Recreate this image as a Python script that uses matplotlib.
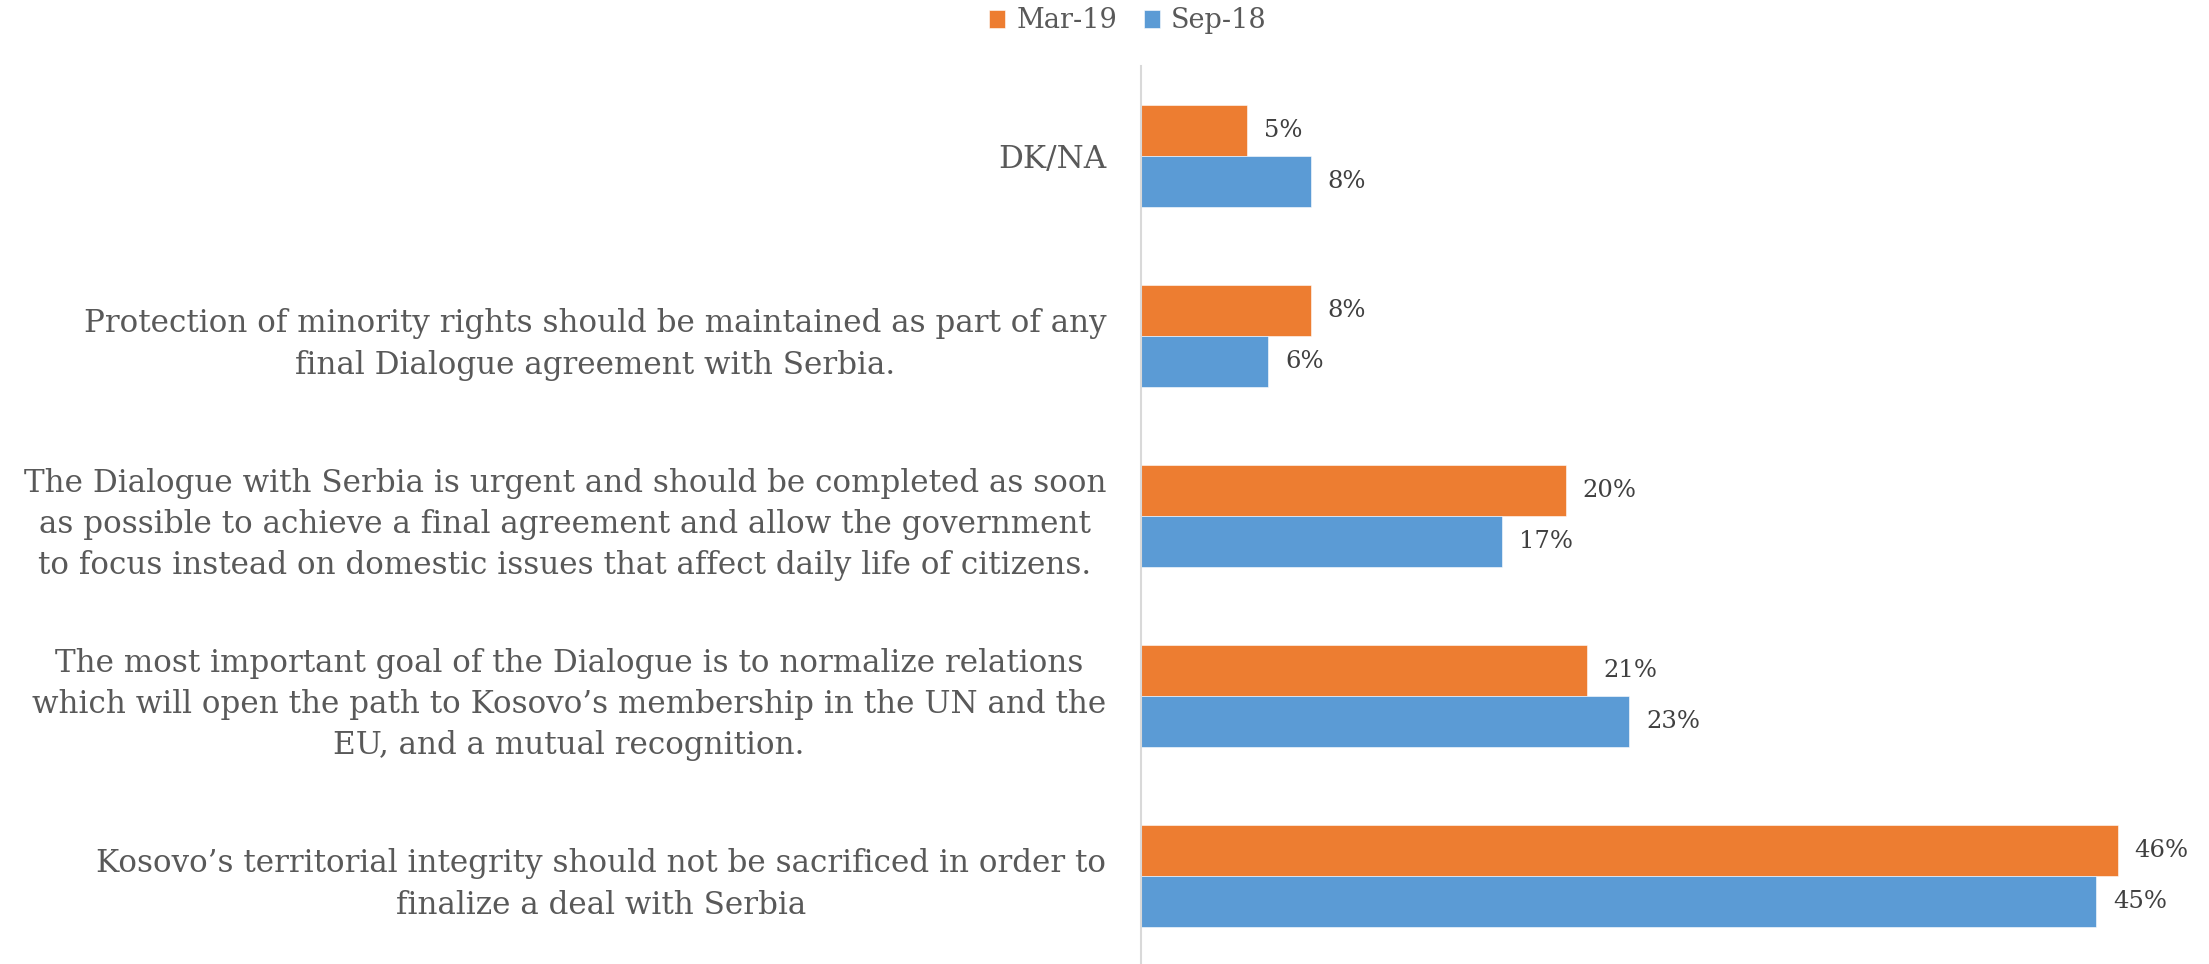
import matplotlib.pyplot as plt
import numpy as np

plt.rcParams['font.family'] = ['DejaVu Serif']

categories = [
    "Kosovo’s territorial integrity should not be sacrificed in order to\nfinalize a deal with Serbia",
    "The most important goal of the Dialogue is to normalize relations\nwhich will open the path to Kosovo’s membership in the UN and the\nEU, and a mutual recognition.",
    "The Dialogue with Serbia is urgent and should be completed as soon\nas possible to achieve a final agreement and allow the government\nto focus instead on domestic issues that affect daily life of citizens.",
    "Protection of minority rights should be maintained as part of any\nfinal Dialogue agreement with Serbia.",
    "DK/NA",
]
mar19 = [46, 21, 20, 8, 5]
sep18 = [45, 23, 17, 6, 8]

orange = '#ED7D31'
blue = '#5B9BD5'

fig = plt.figure(figsize=(22.09, 9.64), dpi=100)
ax = fig.add_axes([1141 / 2209, 0.0, 1 - 1141 / 2209, 1 - 66 / 964])

y = np.arange(len(categories))
h = 0.284
b1 = ax.barh(y + h / 2, mar19, height=h, color=orange, edgecolor='white', linewidth=0.4, label='Mar-19')
b2 = ax.barh(y - h / 2, sep18, height=h, color=blue, edgecolor='white', linewidth=0.4, label='Sep-18')

for bars, vals in ((b1, mar19), (b2, sep18)):
    for bar, v in zip(bars, vals):
        ax.text(v + 0.8, bar.get_y() + bar.get_height() / 2, f'{v}%',
                va='center', ha='left', fontsize=17.5, color='#404040')

ax.set_xlim(0, 50.3)
ax.set_ylim(-0.489, 4.5)
ax.set_xticks([])
ax.set_yticks(y)
ax.set_yticklabels(categories, fontsize=22.3, color='#595959', linespacing=1.42)
for t in ax.get_yticklabels():
    t.set_multialignment('center')
ax.tick_params(axis='y', length=0, pad=25)

for s in ('top', 'right', 'bottom'):
    ax.spines[s].set_visible(False)
ax.spines['left'].set_color('#d9d9d9')
ax.spines['left'].set_linewidth(1.5)

fig.legend(handles=[b1, b2], loc='center', bbox_to_anchor=(1128 / 2209, 1 - 21 / 964),
           ncol=2, frameon=False, fontsize=19.5, handlelength=0.6, handleheight=0.6,
           handletextpad=0.4, columnspacing=1.0, labelcolor='#595959')

fig.savefig('out.png', dpi=100)
